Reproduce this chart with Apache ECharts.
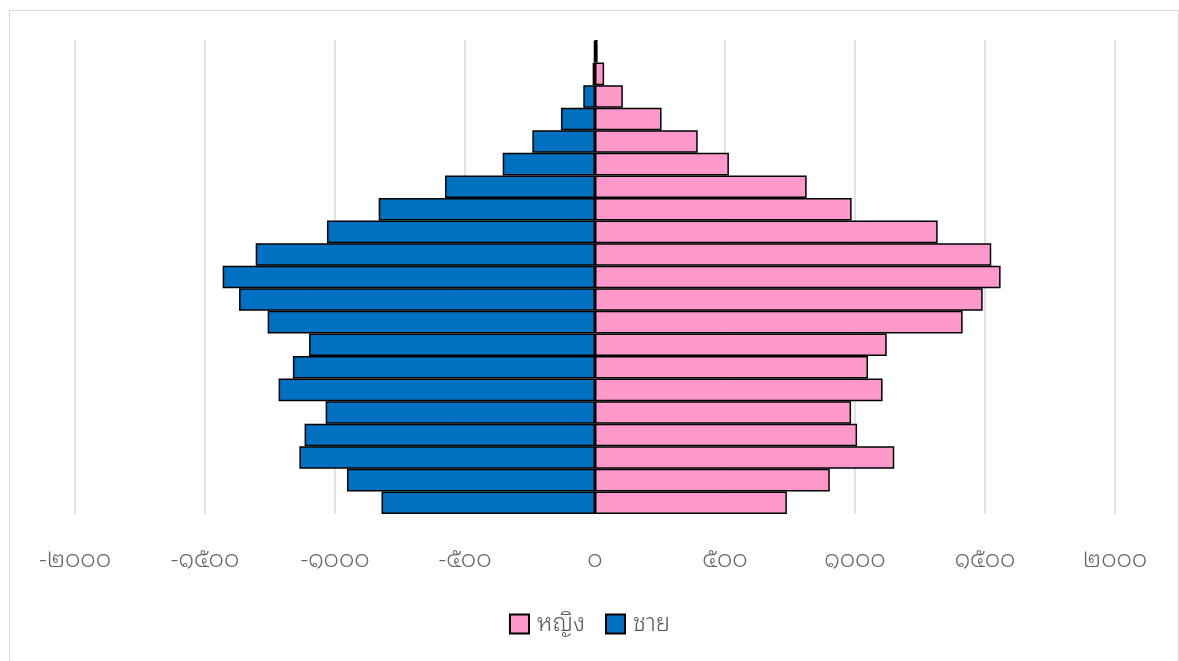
<!DOCTYPE html>
<html>
<head>
<meta charset="utf-8">
<script src="https://cdn.jsdelivr.net/npm/echarts@6/dist/echarts.min.js"></script>
<style>
  body{margin:0;background:#fff;}
  #frame{position:absolute;left:9px;top:10px;width:1168px;height:700px;border:1px solid #d9d9d9;}
  #main{position:absolute;left:0;top:0;width:1179px;height:661px;}
</style>
</head>
<body>
<div id="frame"></div>
<div id="main"></div>
<script>
  // age groups bottom -> top
  var ageGroups = ['0-4','5-9','10-14','15-19','20-24','25-29','30-34','35-39','40-44','45-49',
    '50-54','55-59','60-64','65-69','70-74','75-79','80-84','85-89','90-94','95-99','100+'];
  var female = [738,903,1151,1008,985,1106,1050,1122,1414,1491,1560,1524,1318,987,814,515,395,256,107,35,10];
  var male = [821,954,1137,1117,1036,1217,1162,1100,1259,1369,1432,1305,1031,832,577,355,241,131,45,9,4];
  var ticks = [-2000,-1500,-1000,-500,0,500,1000,1500,2000];

  var thaiDigits = ['๐','๑','๒','๓','๔','๕','๖','๗','๘','๙'];
  function toThai(v){
    return String(v).replace(/[0-9]/g, function(d){ return thaiDigits[+d]; });
  }

  var chart = echarts.init(document.getElementById('main'));
  chart.setOption({
    animation: false,
    textStyle: {fontFamily: '"Noto Sans Thai Looped", "Noto Sans Thai", "Noto Sans", "DejaVu Sans", sans-serif'},
    grid: {left: 75, right: 64, top: 40, bottom: 147},
    legend: {
      bottom: 20,
      left: 'center',
      icon: 'rect',
      itemWidth: 19,
      itemHeight: 19,
      itemGap: 20,
      textStyle: {color: '#595959', fontSize: 24, fontWeight: 300, padding: [0, 0, 0, 3]},
      data: ['หญิง','ชาย']
    },
    xAxis: {
      type: 'value',
      min: ticks[0],
      max: ticks[ticks.length-1],
      interval: 500,
      axisLine: {show: false},
      axisTick: {show: false},
      splitLine: {lineStyle: {color: '#d9d9d9', width: 1.5}},
      axisLabel: {
        color: '#666666',
        fontSize: 24,
        fontWeight: 300,
        margin: 34,
        formatter: function(v){ return toThai(v); }
      }
    },
    yAxis: {
      type: 'category',
      data: ageGroups,
      axisLine: {show: false},
      axisTick: {show: false},
      axisLabel: {show: false}
    },
    series: [
      {
        name: 'หญิง',
        type: 'bar',
        barGap: '-100%',
        barCategoryGap: 0,
        data: female,
        itemStyle: {color: '#ff99cc', borderColor: '#000', borderWidth: 1.5}
      },
      {
        name: 'ชาย',
        type: 'bar',
        barCategoryGap: 0,
        data: male.map(function(v){ return -v; }),
        itemStyle: {color: '#0070c0', borderColor: '#000', borderWidth: 1.5}
      }
    ]
  });
</script>
</body>
</html>
